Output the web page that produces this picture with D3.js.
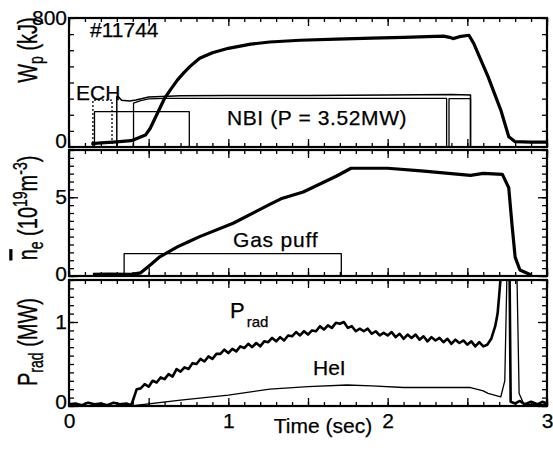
<!DOCTYPE html>
<html>
<head>
<meta charset="utf-8">
<script src="https://cdn.jsdelivr.net/npm/d3@7"></script>
<style>
  body { margin: 0; background: #fff; }
  svg { display: block; font-family: "Liberation Sans", Arial, sans-serif; }
  text { stroke: #000; stroke-width: 0.25px; }
</style>
</head>
<body>
<svg id="chart"></svg>
<script>
// ---- data ----
const timeTicks = [0, 1, 2, 3]

// stored energy W_p (kJ)
const wpTime = [0.14, 0.2, 0.3, 0.39, 0.43, 0.48, 0.51, 0.54, 0.57, 0.60, 0.635, 0.68, 0.72, 0.76, 0.82, 0.9, 1.0, 1.14, 1.26, 1.45, 1.68, 1.9, 2.1, 2.35, 2.39, 2.41, 2.45, 2.51, 2.54, 2.63, 2.71, 2.76, 2.8, 2.9, 3.0]
const wpVal = [20, 25, 32, 39, 54, 74, 116, 178, 240, 302, 353, 415, 460, 500, 550, 585, 612, 638, 651, 662, 669, 675, 680, 688, 680, 672, 684, 693, 643, 436, 229, 64, 33, 30, 30]

// heating waveforms drawn in the W_p panel (kJ-scale levels)
const echDotTime = [0.15, 0.15, 0.27, 0.27]
const echDotVal = [0, 291, 291, 0]
const echTime = [0.16, 0.16, 0.755, 0.755]
const echVal = [0, 219, 219, 0]
const nbiBTime = [0.30, 0.30, 0.31, 0.33, 0.38, 0.42, 0.5, 0.7, 1.0, 1.5, 2.0, 2.4, 2.52, 2.52]
const nbiBVal = [0, 312, 312, 290, 285, 292, 310, 318, 320, 320, 322, 325, 322, 0]
const nbiATime = [0.405, 0.405, 0.45, 0.5, 0.6, 2.37, 2.37]
const nbiAVal = [0, 272, 288, 298, 302, 302, 0]
const nbiCTime = [2.385, 2.385, 2.52, 2.52]
const nbiCVal = [0, 300, 300, 0]

// line-averaged density (10^19 m^-3)
const neTime = [0.15, 0.25, 0.39, 0.45, 0.51, 0.57, 0.68, 0.75, 0.82, 1.03, 1.26, 1.33, 1.47, 1.68, 1.77, 2.0, 2.21, 2.52, 2.6, 2.72, 2.76, 2.78, 2.8, 2.83, 2.9]
const neVal = [0.1, 0.12, 0.1, 0.2, 0.7, 1.22, 1.85, 2.17, 2.5, 3.35, 4.55, 4.9, 5.33, 6.35, 6.84, 6.84, 6.67, 6.39, 6.52, 6.45, 5.6, 3.3, 1.2, 0.38, 0.06]
const gasTime = [0.346, 0.346, 1.709, 1.709]
const gasVal = [0, 1.42, 1.42, 0]

// radiated power (MW)
const pradTime = [0.0, 0.04, 0.08, 0.12, 0.16, 0.2, 0.24, 0.28, 0.32, 0.36, 0.39,
  0.400, 0.425, 0.450, 0.475, 0.500, 0.525, 0.550, 0.575, 0.600, 0.625, 0.650, 0.675, 0.700, 0.725, 0.750, 0.775,
  0.800, 0.825, 0.850, 0.875, 0.900, 0.925, 0.950, 0.975, 1.000, 1.025, 1.050, 1.075, 1.100, 1.125, 1.150, 1.175,
  1.200, 1.225, 1.250, 1.275, 1.300, 1.325, 1.350, 1.375, 1.400, 1.425, 1.450, 1.475, 1.500, 1.525, 1.550, 1.575,
  1.600, 1.625, 1.650, 1.675, 1.700, 1.725, 1.750, 1.775, 1.800, 1.825, 1.850, 1.875, 1.900, 1.925, 1.950, 1.975,
  2.000, 2.025, 2.050, 2.075, 2.100, 2.125, 2.150, 2.175, 2.200, 2.225, 2.250, 2.275, 2.300, 2.325, 2.350, 2.375,
  2.400, 2.425, 2.450, 2.475, 2.500, 2.525, 2.550, 2.575, 2.600, 2.625,
  2.65, 2.675, 2.69, 2.70, 2.712, 2.765, 2.772, 2.8, 2.83, 2.86, 2.9, 2.94, 2.97, 3.0]
const pradVal = [0.02, 0.03, 0.01, 0.04, 0.02, 0.03, 0.01, 0.04, 0.02, 0.03, 0.01,
  0.06, 0.20, 0.21, 0.26, 0.23, 0.30, 0.28, 0.34, 0.32, 0.38, 0.35, 0.44, 0.41, 0.46, 0.44, 0.51,
  0.50, 0.56, 0.53, 0.59, 0.56, 0.62, 0.62, 0.67, 0.63, 0.68, 0.65, 0.71, 0.69, 0.74, 0.70, 0.75,
  0.71, 0.77, 0.76, 0.81, 0.77, 0.82, 0.78, 0.84, 0.83, 0.88, 0.84, 0.89, 0.85, 0.90, 0.89, 0.95,
  0.91, 0.96, 0.93, 0.99, 0.98, 1.00, 0.93, 0.95, 0.89, 0.92, 0.89, 0.92, 0.86, 0.89, 0.84, 0.87,
  0.84, 0.88, 0.82, 0.86, 0.80, 0.85, 0.81, 0.85, 0.79, 0.83, 0.77, 0.82, 0.78, 0.81, 0.76, 0.80,
  0.74, 0.79, 0.75, 0.78, 0.73, 0.77, 0.71, 0.76, 0.71, 0.73,
  0.80, 0.95, 1.10, 1.32, 1.6, 1.6, 0.05, 0.03, 0.06, 0.02, 0.05, 0.02, 0.05, 0.03]

// HeI line emission (same panel, arbitrary scale)
const heTime = [0.39, 0.7, 1.0, 1.26, 1.5, 1.745, 1.9, 2.1, 2.37, 2.52, 2.6, 2.63, 2.71, 2.735, 2.75, 2.81, 2.825, 2.855, 2.9, 3.0]
const heVal = [0.0, 0.07, 0.13, 0.2, 0.23, 0.25, 0.24, 0.22, 0.22, 0.22, 0.18, 0.15, 0.11, 0.3, 1.7, 1.7, 0.15, 0.02, 0.02, 0.02]

// ---- layout ----
const width = 553, height = 449
const plotLeft = 69, plotRight = 547
const font = 21

const svg = d3.select('#chart').attr('width', width).attr('height', height)

const x = d3.scaleLinear().domain([0, 3]).range([plotLeft, plotRight])

// zeroShift nudges the "0" label up, as in the original figure
const panels = [
    { id: 'wp', top: 18, bottom: 147, domain: [0, 800], minorStep: 100, major: [], labels: [0, 800], zeroShift: -6 },
    { id: 'ne', top: 150, bottom: 276, domain: [0, 8], minorStep: 0.5, major: [0, 5], labels: [0, 5], zeroShift: -2 },
    { id: 'prad', top: 280, bottom: 406, domain: [0, 1.5], minorStep: 0.1, major: [0, 1], labels: [0, 1], zeroShift: -4 },
]

const xMinor = d3.range(0, 3.0001, 0.1)
const xMajor = d3.range(0, 3.0001, 0.5)

const zip = (ts, vs) => ts.map((t, i) => [t, vs[i]])

panels.forEach(p => {
    p.y = d3.scaleLinear().domain(p.domain).range([p.bottom, p.top])
    const g = svg.append('g').attr('class', 'panel ' + p.id)

    svg.append('clipPath').attr('id', 'clip-' + p.id)
        .append('rect').attr('x', plotLeft).attr('y', p.top)
        .attr('width', plotRight - plotLeft).attr('height', p.bottom - p.top)
    p.plot = g.append('g').attr('clip-path', `url(#clip-${p.id})`)

    const yMinor = d3.range(p.domain[0], p.domain[1] + 1e-9, p.minorStep)

    // inward ticks on all four sides
    const addAxis = (axis, tr) => {
        const a = g.append('g').attr('transform', tr).call(axis)
        a.select('.domain').remove()
        a.selectAll('line').attr('stroke', '#000').attr('stroke-width', 1.3)
        return a
    }
    addAxis(d3.axisBottom(x).tickValues(xMinor).tickSize(-4).tickFormat(''), `translate(0,${p.bottom})`)
    addAxis(d3.axisBottom(x).tickValues(xMajor).tickSize(-8).tickFormat(''), `translate(0,${p.bottom})`)
    addAxis(d3.axisTop(x).tickValues(xMinor).tickSize(-4).tickFormat(''), `translate(0,${p.top})`)
    addAxis(d3.axisTop(x).tickValues(xMajor).tickSize(-8).tickFormat(''), `translate(0,${p.top})`)
    addAxis(d3.axisLeft(p.y).tickValues(yMinor).tickSize(-5).tickFormat(''), `translate(${plotLeft},0)`)
    addAxis(d3.axisLeft(p.y).tickValues(p.major).tickSize(-9).tickFormat(''), `translate(${plotLeft},0)`)
    addAxis(d3.axisRight(p.y).tickValues(yMinor).tickSize(-5).tickFormat(''), `translate(${plotRight},0)`)
    addAxis(d3.axisRight(p.y).tickValues(p.major).tickSize(-9).tickFormat(''), `translate(${plotRight},0)`)

    // y tick labels
    const lab = addAxis(d3.axisLeft(p.y).tickValues(p.labels).tickSize(0).tickPadding(2)
        .tickFormat(d3.format('')), `translate(${plotLeft},0)`)
    lab.selectAll('text').attr('font-size', font).attr('font-family', 'inherit').attr('fill', '#000')
        .attr('y', d => d === 0 ? p.zeroShift : 0)

    // frame
    g.append('rect').attr('x', plotLeft).attr('y', p.top)
        .attr('width', plotRight - plotLeft).attr('height', p.bottom - p.top)
        .attr('fill', 'none').attr('stroke', '#000').attr('stroke-width', 2.2)
})

const [pW, pN, pP] = panels

const drawLine = (p, ts, vs, w, dash) => {
    const line = d3.line().x(d => x(d[0])).y(d => p.y(d[1]))
    p.plot.append('path').datum(zip(ts, vs))
        .attr('d', line).attr('fill', 'none').attr('stroke', '#000')
        .attr('stroke-width', w).attr('stroke-linejoin', 'round')
        .attr('stroke-dasharray', dash || null)
}

// panel 1
drawLine(pW, echDotTime, echDotVal, 1.3, '2,2')
drawLine(pW, echTime, echVal, 1.3)
drawLine(pW, nbiBTime, nbiBVal, 1.5)
drawLine(pW, nbiATime, nbiAVal, 1.3)
drawLine(pW, nbiCTime, nbiCVal, 1.3)
drawLine(pW, wpTime, wpVal, 3.2)

// panel 2
drawLine(pN, gasTime, gasVal, 1.3)
drawLine(pN, neTime, neVal, 3.2)

// panel 3
drawLine(pP, heTime, heVal, 1.3)
drawLine(pP, pradTime, pradVal, 2.6)

// x tick labels under the last panel
const xl = svg.append('g').attr('transform', `translate(0,${pP.bottom})`)
    .call(d3.axisBottom(x).tickValues(timeTicks).tickSize(0).tickPadding(7).tickFormat(d3.format('')))
xl.select('.domain').remove()
xl.selectAll('text').attr('font-size', font).attr('font-family', 'inherit').attr('fill', '#000')

// annotations
const text = (tx, ty, str, size) => svg.append('text').attr('x', tx).attr('y', ty)
    .attr('font-size', size || font).text(str)

text(90, 37, '#11744')
text(76, 100, 'ECH')
text(227, 125, 'NBI (P = 3.52MW)').attr('letter-spacing', 0.6)
text(233, 247, 'Gas puff').attr('letter-spacing', 0.8)
text(313, 375, 'HeI')
const pl = text(230, 318, 'P', 22)
pl.append('tspan').attr('font-size', 15).attr('dx', 2).attr('dy', 9).text('rad')
svg.append('text').attr('x', 323).attr('y', 433).attr('text-anchor', 'middle')
    .attr('font-size', font).text('Time (sec)')

// rotated y labels
const yLabel = (cy, build) => {
    const t = svg.append('text')
        .attr('transform', `translate(37,${cy}) rotate(-90) scale(1,1.4)`)
        .attr('text-anchor', 'middle').attr('font-size', 20)
    build(t)
}
yLabel(50, t => {
    t.append('tspan').text('W')
    t.append('tspan').attr('font-size', 14).attr('dy', 4).text('p')
    t.append('tspan').attr('dy', -4).text(' (kJ)')
})
yLabel(208, t => {
    t.append('tspan').attr('text-decoration', 'overline').text('n')
    t.append('tspan').attr('font-size', 14).attr('dy', 4).text('e')
    t.append('tspan').attr('dy', -4).text(' (10')
    t.append('tspan').attr('font-size', 14).attr('dy', -7).text('19')
    t.append('tspan').attr('dy', 7).text('m')
    t.append('tspan').attr('font-size', 14).attr('dy', -7).text('-3')
    t.append('tspan').attr('dy', 7).text(')')
})
yLabel(342, t => {
    t.append('tspan').text('P')
    t.append('tspan').attr('font-size', 14).attr('dy', 4).text('rad')
    t.append('tspan').attr('dy', -4).text(' (MW)')
})
</script>
</body>
</html>
